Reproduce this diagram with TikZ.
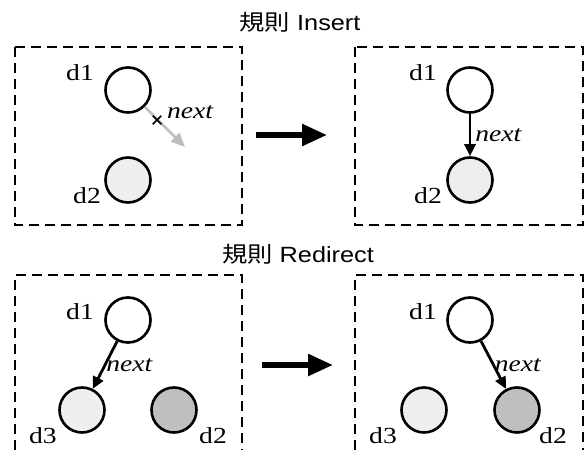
\documentclass[tikz,border=0pt]{standalone}
\usepackage{fontspec}
\setmainfont{Liberation Serif}[FakeStretch=1.2]
\setsansfont{Liberation Sans}[FakeStretch=1.15]
\newfontfamily\cjkfont{Noto Sans CJK TC}[FakeStretch=1.15]
\usepackage{xcolor}
\usepackage{tikz}
\usetikzlibrary{positioning,arrows.meta,shapes.misc}

\definecolor{lightfill}{HTML}{EEEEEE}
\definecolor{darkfill}{HTML}{BFBFBF}
\definecolor{cutgray}{HTML}{BDBDBD}

\begin{document}
\begin{tikzpicture}[x=1pt, y=-1pt,
    datum/.style={circle, draw, line width=2.6pt, minimum size=45pt, inner sep=0pt},
    lbl/.style={font=\fontsize{23}{23}\selectfont, inner sep=0pt},
    nxt/.style={font=\fontsize{23}{23}\selectfont\itshape, inner sep=1pt},
    ptr/.style={-{Triangle[length=12pt, width=11pt]}, line width=2.8pt},
    rulebox/.style={draw, dash pattern=on 10pt off 6pt, line width=2.2pt},
    bigarrow/.style={-{Triangle[length=25pt, width=21pt]}, line width=5.5pt},
    title/.style={font=\fontsize{22}{22}\selectfont\sffamily},
]
\useasboundingbox (0,0) rectangle (584,450);

% Titles
\node[title] (institle) at (300,22) {{\cjkfont 規則} Insert};
\node[title] (redtitle) at (298,254) {{\cjkfont 規則} Redirect};

% Frames
\draw[rulebox] (15,47) rectangle (242,225);
\draw[rulebox] (355,47) rectangle (583,225);
\draw[rulebox] (15,450) -- (15,275) -- (242,275) -- (242,450);
\draw[rulebox] (355,450) -- (355,275) -- (583,275) -- (583,450);

% Insert: before
\node[datum] (ia1) at (128,90) {};
\node[datum, fill=lightfill] (ia2) at (128,180) {};
\node[lbl] (ia1l) at (80,73) {d1};
\node[lbl] (ia2l) at (87,196) {d2};
\coordinate (iaend) at (185,147);
\draw[ptr, cutgray, line width=2.6pt, -{Triangle[length=14pt, width=12pt]}] (ia1.-45) -- (iaend);
\node[cross out, draw, line width=1.5pt, minimum size=7pt, inner sep=0pt] (iacut) at (157,120) {};
\node[nxt] (ianext) at (190,112) {next};

% Insert: after
\node[datum] (ib1) at (470,90) {};
\node[datum, fill=lightfill] (ib2) at (470,180) {};
\node[lbl] (ib1l) at (423,73) {d1};
\node[lbl] (ib2l) at (428,196) {d2};
\draw[ptr] (ib1) -- node[nxt, right, inner sep=4pt] {next} (ib2);

% Rule arrows
\coordinate (insfrom) at (256,135);
\coordinate (insto) at (327,135);
\draw[bigarrow] (insfrom) -- (insto);
\coordinate (redfrom) at (262,365);
\coordinate (redto) at (333,365);
\draw[bigarrow] (redfrom) -- (redto);

% Redirect: before
\node[datum] (ra1) at (128,320) {};
\node[datum, fill=lightfill] (ra3) at (82,410) {};
\node[datum, fill=darkfill] (ra2) at (174,410) {};
\node[lbl] (ra1l) at (80,312) {d1};
\node[lbl] (ra3l) at (43,436) {d3};
\node[lbl] (ra2l) at (213,436) {d2};
\draw[ptr] (ra1) -- node[nxt, right, inner sep=0pt] {next} (ra3);

% Redirect: after
\node[datum] (rb1) at (470,320) {};
\node[datum, fill=lightfill] (rb3) at (424,410) {};
\node[datum, fill=darkfill] (rb2) at (517,410) {};
\node[lbl] (rb1l) at (423,312) {d1};
\node[lbl] (rb3l) at (383,436) {d3};
\node[lbl] (rb2l) at (553,436) {d2};
\draw[ptr] (rb1) -- node[nxt, right, inner sep=0pt] {next} (rb2);
\end{tikzpicture}
\end{document}
